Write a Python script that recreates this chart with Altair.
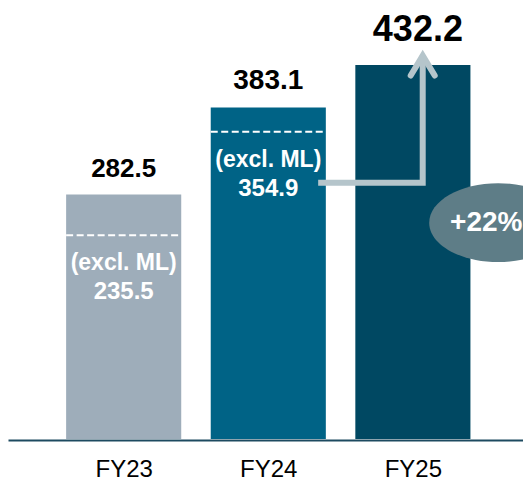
import altair as alt
import pandas as pd

# ---- data ----
years = ["FY23", "FY24", "FY25"]
totals = [282.5, 383.1, 432.2]
excl_years = ["FY23", "FY24"]
excl_values = [235.5, 354.9]
excl_label = "(excl. ML)"
growth_text = "+22%"
bar_colors = ["#9eadba", "#006386", "#004862"]

# annotation anchors in data units (x: bar index, y: value scale)
arrow_x = [2.345, 3.068, 3.068]
arrow_y = [296, 296, 443]
head_x = [2.985, 3.068, 3.151]
head_y = [420, 443, 420]
bubble_x = [3.59]
bubble_y = [250]
growth_x = [3.257]

FONT = "Liberation Sans"
HALF = 0.398
PLOT_W = 515
PX_PER_UNIT = 144.6
X_MIN = 0.2

pos = [i + 1 for i in range(len(years))]
bars = pd.DataFrame({"year": years, "pos": pos, "total": totals})
bars["x0"] = bars["pos"] - HALF
bars["x1"] = bars["pos"] + HALF
bars["zero"] = 0

excl = pd.DataFrame({"year": excl_years, "excl": excl_values})
excl = excl.merge(bars[["year", "pos", "x0", "x1"]], on="year")
excl["lbl"] = excl_label
excl["val"] = excl["excl"].map(lambda v: f"{v:.1f}")

arrow = pd.DataFrame({"x": arrow_x, "y": arrow_y, "o": list(range(len(arrow_x)))})
head = pd.DataFrame({"x": head_x, "y": head_y, "o": list(range(len(head_x)))})
bubble = pd.DataFrame({"x": bubble_x, "y": bubble_y, "tx": growth_x, "t": [growth_text]})

label_expr = "[" + ",".join(f"'{y}'" for y in years) + "][datum.value - 1]"
x_axis = alt.Axis(values=pos, labelExpr=label_expr, ticks=False, grid=False,
                  domain=True, domainColor="#1d4a60", domainWidth=2,
                  labelFontSize=24, labelColor="#000000", labelFont=FONT,
                  labelPadding=17, title=None, offset=1)
xs = alt.Scale(domain=[X_MIN, X_MIN + PLOT_W / PX_PER_UNIT], nice=False, zero=False)
ys = alt.Scale(domain=[0, 498], nice=False, zero=False)


def X(field):
    return alt.X(field, type="quantitative", scale=xs, axis=x_axis)


def Y(field):
    return alt.Y(field, type="quantitative", scale=ys, axis=None)


base_bars = alt.Chart(bars).mark_rect().encode(
    x=X("x0"), x2="x1", y=Y("total"), y2="zero",
    color=alt.Color("year:N", scale=alt.Scale(domain=years, range=bar_colors), legend=None),
)

dashes = alt.Chart(excl).mark_rule(color="white", strokeWidth=2, strokeDash=[7, 3.5]).encode(
    x=X("x0"), x2="x1", y=Y("excl"),
)

excl_txt1 = alt.Chart(excl).mark_text(
    color="white", fontWeight="bold", fontSize=23, font=FONT, baseline="alphabetic", dy=35
).encode(x=X("pos"), y=Y("excl"), text="lbl:N")

excl_txt2 = alt.Chart(excl).mark_text(
    color="white", fontWeight="bold", fontSize=24, font=FONT, baseline="alphabetic", dy=64
).encode(x=X("pos"), y=Y("excl"), text="val:N")

small_labels = alt.Chart(bars).transform_filter(
    alt.FieldOneOfPredicate(field="year", oneOf=years[:2])
).mark_text(color="black", fontWeight="bold", font=FONT, baseline="alphabetic", dy=-18).encode(
    x=X("pos"), y=Y("total"),
    text=alt.Text("total:Q", format=".1f"),
    size=alt.Size("year:N", scale=alt.Scale(domain=years[:2], range=[26, 28]), legend=None),
)

big_label = alt.Chart(bars).transform_filter(
    alt.FieldEqualPredicate(field="year", equal=years[2])
).mark_text(color="black", fontWeight="bold", font=FONT, fontSize=36, baseline="alphabetic", dy=-24, dx=5).encode(
    x=X("pos"), y=Y("total"), text=alt.Text("total:Q", format=".1f"),
)

arrow_line = alt.Chart(arrow).mark_line(
    color="#b5c5cb", strokeWidth=6, strokeCap="butt", strokeJoin="miter"
).encode(x=X("x"), y=Y("y"), order="o:Q")

arrow_head = alt.Chart(head).mark_line(
    color="#b5c5cb", strokeWidth=6, strokeCap="round", strokeJoin="miter"
).encode(x=X("x"), y=Y("y"), order="o:Q")

ellipse_path = "M-1,0A1,0.572,0,1,1,1,0A1,0.572,0,1,1,-1,0Z"
bubble_mark = alt.Chart(bubble).mark_point(
    shape=ellipse_path, size=19044, filled=True, color="#5e7d87", opacity=1, strokeWidth=0
).encode(x=X("x"), y=Y("y"))

bubble_txt = alt.Chart(bubble).mark_text(
    color="white", fontWeight="bold", fontSize=28, font=FONT, align="left", baseline="middle"
).encode(x=X("tx"), y=Y("y"), text="t:N")

chart = alt.layer(
    base_bars, dashes, excl_txt1, excl_txt2, small_labels, big_label,
    arrow_line, arrow_head, bubble_mark, bubble_txt,
).properties(
    width=PLOT_W, height=431,
    autosize=alt.AutoSizeParams(type="none"),
    padding={"left": 0, "top": 0, "right": 0, "bottom": 44},
).configure(
    font=FONT, background="white", view=alt.ViewConfig(stroke=None)
)

chart.save("out.html", embed_options={"renderer": "svg", "actions": False})
